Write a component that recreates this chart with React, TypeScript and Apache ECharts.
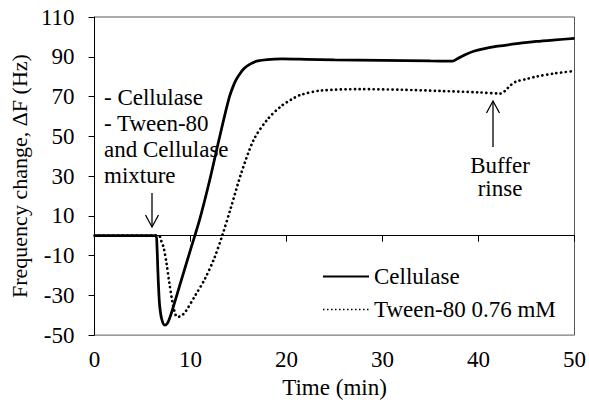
import React, { useEffect, useRef } from "react";
import * as echarts from "echarts";

const cellulaseTime = [0, 6.4, 6.5, 6.6, 6.7, 6.8, 7.0, 7.3, 7.6, 8, 9, 10, 11, 12, 13, 14, 14.6, 15, 15.6, 16.2, 17, 18, 19.5, 22, 25, 30, 35, 37.3, 37.8, 38.6, 39.5, 40.5, 42, 44, 46, 48, 50];
const cellulaseDF = [0, 0, -5, -18, -29, -36, -42, -45, -44, -39, -23, -7, 9, 28, 49, 69, 77, 80.5, 84.2, 86.3, 87.9, 88.6, 88.9, 88.7, 88.4, 88.2, 87.9, 87.8, 89, 91, 92.8, 94, 95.3, 96.6, 97.7, 98.5, 99.2];

const tweenTime = [0, 6.7, 6.9, 7.2, 7.5, 7.8, 8.1, 8.35, 8.6, 9.0, 9.5, 10.5, 11.5, 12.5, 13.3, 14.2, 15.3, 16.6, 18, 19.4, 20.5, 21.5, 23.6, 27.7, 32, 36, 40, 42.3, 42.8, 43.3, 43.9, 45, 46, 48, 50];
const tweenDF = [0, 0, -2, -6, -14, -24, -33, -38.5, -40.8, -40.5, -38, -30, -21.7, -11, 0, 14, 31.7, 48.4, 58.4, 65, 68.5, 70.9, 73, 73.7, 73.4, 72.8, 72.1, 71.5, 73, 75.5, 77.5, 78.8, 80, 81.7, 82.8];

const yTicks = [-50, -30, -10, 10, 30, 50, 70, 90, 110];
const xTicks = [0, 10, 20, 30, 40, 50];

const seriesNames = ["Cellulase", "Tween-80 0.76 mM"];
const annotationText = "- Cellulase\n- Tween-80\nand Cellulase\nmixture";
const rinseText = "Buffer\nrinse";

const FONT = "Liberation Serif";

function zip(xs: number[], ys: number[]) {
  return xs.map((x, i) => [x, ys[i]]);
}

export default function App() {
  const ref = useRef<HTMLDivElement>(null);
  useEffect(() => {
    document.body.style.margin = "0";
    if (!ref.current) return;
    const chart = echarts.init(ref.current, null, { renderer: "svg" });
    const txt = { color: "#000", fontFamily: FONT, fontSize: 23 };
    chart.setOption({
      animation: false,
      backgroundColor: "#fff",
      textStyle: { fontFamily: FONT },
      grid: {
        left: 93,
        right: 14,
        top: 17,
        bottom: 68,
        show: true,
        borderColor: "#595959",
        borderWidth: 1,
        backgroundColor: "transparent",
      },
      xAxis: {
        type: "value",
        min: 0,
        max: 50,
        interval: 10,
        name: "Time (min)",
        nameLocation: "middle",
        nameGap: 37,
        nameTextStyle: txt,
        axisLine: { lineStyle: { color: "#000", width: 1 } },
        axisTick: { show: true, inside: false, length: 6, lineStyle: { color: "#000" }, customValues: xTicks },
        axisLabel: { ...txt, margin: 13, customValues: xTicks },
        splitLine: { show: false },
      },
      yAxis: {
        type: "value",
        min: -50,
        max: 110,
        name: "Frequency change, \u0394F (Hz)",
        nameLocation: "middle",
        nameGap: 54,
        nameRotate: 90,
        nameTextStyle: { ...txt, fontSize: 22 },
        axisLine: { show: true, lineStyle: { color: "#000", width: 1 } },
        axisTick: { show: true, inside: false, length: 6, lineStyle: { color: "#000" }, customValues: yTicks },
        axisLabel: { ...txt, margin: 20, customValues: yTicks },
        splitLine: { show: false },
      },
      legend: {
        orient: "vertical",
        left: 317,
        top: 260,
        itemWidth: 46,
        itemHeight: 1,
        itemGap: 10,
        textStyle: txt,
        data: [
          { name: seriesNames[0] },
          { name: seriesNames[1], lineStyle: { width: 1.5, type: [1.5, 2.5], cap: "butt" } },
        ],
      },
      series: [
        {
          name: seriesNames[0],
          type: "line",
          data: zip(cellulaseTime, cellulaseDF),
          symbol: "none",
          smooth: 0.3,
          lineStyle: { color: "#000", width: 2.75, type: "solid" },
          itemStyle: { color: "#000" },
          z: 3,
        },
        {
          name: seriesNames[1],
          type: "line",
          data: zip(tweenTime, tweenDF),
          symbol: "none",
          smooth: 0.3,
          lineStyle: { color: "#000", width: 2.7, type: [0.1, 4.6], cap: "round" },
          itemStyle: { color: "#000" },
          z: 2,
        },
      ],
      graphic: [
        {
          type: "text",
          left: 104,
          top: 84,
          style: { text: annotationText, fontFamily: FONT, fontSize: 23, fill: "#000", lineHeight: 26 },
        },
        { type: "line", shape: { x1: 152, y1: 193, x2: 152, y2: 227 }, style: { stroke: "#000", lineWidth: 1.3 } },
        { type: "polyline", shape: { points: [[145.5, 215], [152, 227], [158.5, 215]] }, style: { stroke: "#000", lineWidth: 1.3, fill: null } },
        { type: "line", shape: { x1: 493, y1: 101, x2: 493, y2: 147 }, style: { stroke: "#000", lineWidth: 1.3 } },
        { type: "polyline", shape: { points: [[486.5, 113], [493, 101], [499.5, 113]] }, style: { stroke: "#000", lineWidth: 1.3, fill: null } },
        {
          type: "text",
          x: 500,
          y: 154,
          style: { text: rinseText, fontFamily: FONT, fontSize: 23, fill: "#000", lineHeight: 23, align: "center" },
        },
      ],
    });
    return () => chart.dispose();
  }, []);
  return <div ref={ref} style={{ width: 589, height: 404 }} />;
}
